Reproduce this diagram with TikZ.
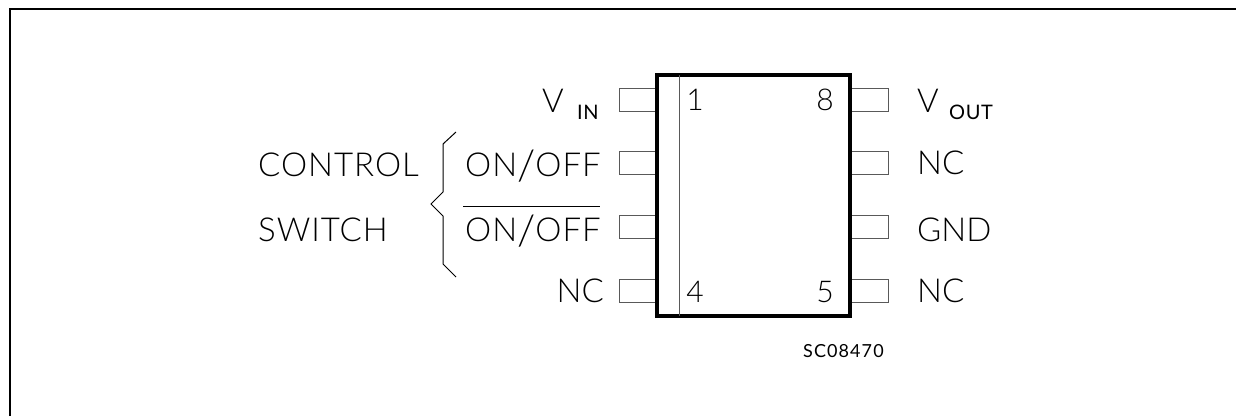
\documentclass[tikz,border=0pt]{standalone}
\usepackage{fontspec}
\setmainfont[LetterSpace=3]{Lato Light}
\newfontfamily\smallfont[LetterSpace=6]{Lato}
\newfontfamily\subfont[LetterSpace=3]{Lato}
\newfontfamily\tightfont{Lato Light}
\newcommand{\onoff}{ON\raisebox{-4pt}{\fontsize{42pt}{42pt}\selectfont/}OFF}
\tikzset{
  frameline/.style = {line width=2.4pt},
  chip/.style = {draw, line width=4.5pt, minimum width=193pt, minimum height=241pt, inner sep=0pt, outer sep=0pt, anchor=north west},
  pin/.style = {draw=black!65, line width=1pt, minimum width=38pt, minimum height=22.5pt, inner sep=0pt, outer sep=0pt},
  pinlabel/.style = {font=\fontsize{33pt}{33pt}\selectfont, inner sep=0pt},
  pinshort/.style = {font=\tightfont\fontsize{33pt}{33pt}\selectfont, inner sep=0pt},
  pinsub/.style = {font=\subfont\fontsize{20pt}{20pt}\selectfont, inner sep=0pt},
  pinnum/.style = {font=\fontsize{30pt}{30pt}\selectfont, inner sep=0pt}
}
\begin{document}
\begin{tikzpicture}[x=1pt, y=-1pt]
\useasboundingbox (0,0) rectangle (1236,416);
\coordinate (ftl) at (10,9);
\coordinate (ftr) at (1236,9);
\coordinate (fbl) at (10,416);
\draw [frameline] (fbl) -- (ftl) -- (ftr);

\node[pin](p1) at (638,100){};
\node[pin](p2) at (638,163){};
\node[pin](p3) at (638,227){};
\node[pin](p4) at (638,291){};
\node[pin](p8) at (869,100){};
\node[pin](p7) at (869,163){};
\node[pin](p6) at (869,227){};
\node[pin](p5) at (869,291){};
\node[chip, fill=white](body) at (657,75){};
\coordinate (bt) at (679,75);
\coordinate (bb) at (679,316);
\draw [draw=black!65, line width=1pt] (bt) -- (bb);

\node[pinnum, anchor=base](n1) at (695,110){1};
\node[pinnum, anchor=base](n8) at (825,110){8};
\node[pinnum, anchor=base](n4) at (695,302){4};
\node[pinnum, anchor=base](n5) at (825,302){5};

\node[pinlabel, anchor=base west](vin) at (542,112){V};
\node[pinsub, anchor=base west](vinsub) at (577,119){IN};
\node[pinlabel, anchor=base east](on) at (601,176){\onoff};
\node[pinlabel, anchor=base east](onbar) at (601,241){\onoff};
\node[pinshort, anchor=base east](ncl) at (604,302){NC};
\node[pinlabel, anchor=base west](vout) at (917,112){V};
\node[pinsub, anchor=base west](voutsub) at (949,119){OUT};
\node[pinshort, anchor=base west](ncr) at (917,174){NC};
\node[pinshort, anchor=base west](gnd) at (917,241){GND};
\node[pinshort, anchor=base west](ncb) at (917,302){NC};
\node[pinlabel, anchor=base west](control) at (258,176){CONTROL};
\node[pinlabel, anchor=base west](switch) at (258,241){SWITCH};
\node[font=\smallfont\fontsize{18pt}{18pt}\selectfont, inner sep=0pt, anchor=base west](code) at (803,357){SC08470};

\coordinate (barl) at (463,206);
\coordinate (barr) at (600,206);
\draw [line width=1pt] (barl) -- (barr);
% brace
\draw [line width=1pt] (456,132) -- (443,144) -- (443,192) -- (431,204) -- (443,216) -- (443,264) -- (456,277);
\end{tikzpicture}
\end{document}
